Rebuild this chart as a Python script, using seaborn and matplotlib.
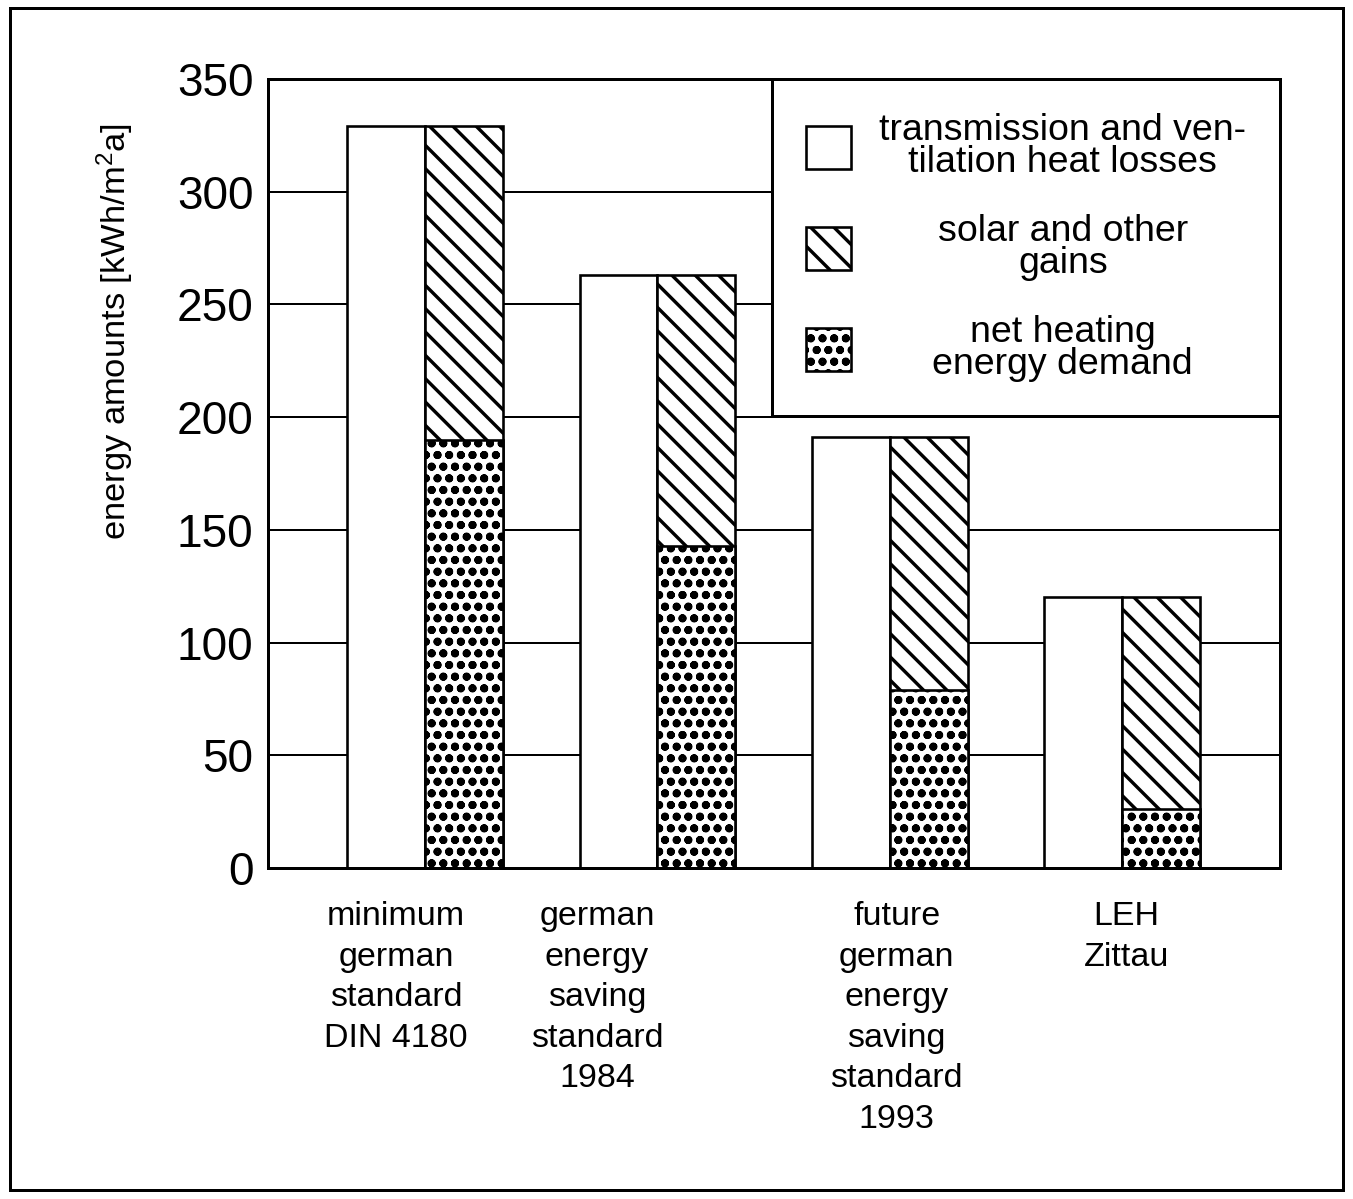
# energy balance of residential buildings: losses vs. gains + net heating demand

import seaborn as sns
import pandas as pd
import matplotlib.pyplot as plt
from matplotlib.patches import Patch, Rectangle

categories = ["minimum\ngerman\nstandard\nDIN 4180",
              "german\nenergy\nsaving\nstandard\n1984",
              "future\ngerman\nenergy\nsaving\nstandard\n1993",
              "LEH\nZittau"]
heat_losses = [329, 263, 191, 120]   # transmission and ventilation heat losses
net_demand = [190, 143, 79, 26]      # net heating energy demand
# solar and other gains = heat_losses - net_demand, stacked on top of net demand

legend_labels = ["transmission and ven-\ntilation heat losses",
                 "solar and other\ngains",
                 "net heating\nenergy demand"]

DPI = 140
def pt(px):
    # sizes below are thought in pixels of the 1353x1199 picture
    return px * 72 / DPI

sns.set_theme(style="white")
plt.rcParams['font.family'] = ['Liberation Sans', 'DejaVu Sans']
plt.rcParams['mathtext.default'] = 'regular'
plt.rcParams['hatch.linewidth'] = pt(3.4)
plt.rcParams['hatch.color'] = 'black'
plt.rcParams['text.color'] = 'black'
plt.rcParams['axes.labelcolor'] = 'black'

# long table: white bar = losses, second bar = total (gains on top of net demand)
df = pd.DataFrame({"cat": categories * 2,
                   "kind": ["loss"] * 4 + ["gain"] * 4,
                   "value": heat_losses + heat_losses})
df_net = pd.DataFrame({"cat": categories, "kind": ["gain"] * 4, "value": net_demand})

fig = plt.figure(figsize=(1353 / DPI, 1199 / DPI), dpi=DPI)
ax = fig.add_axes([268 / 1353, 1 - 868 / 1199, 1012 / 1353, 789 / 1199])

bar_kw = dict(x="cat", y="value", hue="kind", hue_order=["loss", "gain"], order=categories,
              width=0.67, dodge=True, palette=["white", "white"], saturation=1,
              edgecolor="black", linewidth=pt(2.6), errorbar=None, legend=False, ax=ax, zorder=2)
sns.barplot(data=df, **bar_kw)
n_first = len(ax.containers)
sns.barplot(data=df_net, **bar_kw)

for p in ax.containers[1]:
    p.set_hatch("\\\\")
for c in ax.containers[n_first:]:
    for p in c:
        p.set_hatch("oo")

ax.set_xlim(-0.676, 3.68)
ax.set_ylim(0, 350)
ax.set_yticks(range(0, 351, 50))
# labels sit a bit off the bar pairs, as in the original
ax.set_xticks([-0.125, 0.74, 2.03, 3.02])
ax.set_xticklabels(categories)
ax.set_xlabel("")
ax.set_ylabel("energy amounts [kWh/m$^2$a]", fontsize=pt(34.5))
ax.yaxis.set_label_coords(-0.13, 0.68)
ax.tick_params(axis="y", length=0, pad=pt(14.5), labelsize=pt(46), colors="black")
ax.tick_params(axis="x", length=0, pad=pt(33), labelsize=pt(34), colors="black")
for t in ax.get_xticklabels():
    t.set_linespacing(1.4)

ax.yaxis.grid(True, color="black", lw=pt(2.0))
ax.xaxis.grid(False)
ax.set_axisbelow(True)
for s in ax.spines.values():
    s.set_visible(True)
    s.set_color("black")
    s.set_linewidth(pt(3.0))

handles = [Patch(facecolor="white", edgecolor="black", lw=pt(2.6)),
           Patch(facecolor="white", edgecolor="black", lw=pt(2.6), hatch="\\\\"),
           Patch(facecolor="white", edgecolor="black", lw=pt(2.6), hatch="oo")]
leg = ax.legend(handles, legend_labels, loc="upper right", borderaxespad=0, fontsize=pt(37.5),
                frameon=True, fancybox=False, framealpha=1, edgecolor="black",
                handlelength=1.2, handleheight=1.4, handletextpad=0.75,
                labelspacing=0.9, borderpad=0.9)
leg.get_frame().set_linewidth(pt(3.0))
for t in leg.get_texts():
    t.set_linespacing(0.9)
    t.set_multialignment("center")

# center the legend texts in one column
fig.canvas.draw()
widths = [t.get_window_extent().width for t in leg.get_texts()]
maxw = max(widths)
for t, w in zip(leg.get_texts(), widths):
    t.set_x((maxw - w) / 2)

# frame round the whole figure
fig.add_artist(Rectangle((10 / 1353, 1 - 1190 / 1199), 1333 / 1353, 1182 / 1199,
                         transform=fig.transFigure, fill=False, edgecolor="black", lw=pt(3.0)))

fig.savefig("out.png", dpi=DPI)
